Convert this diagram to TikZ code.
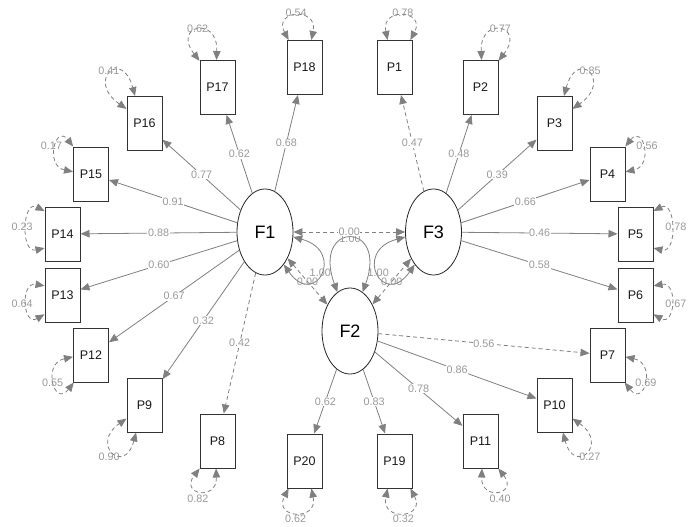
\documentclass[tikz,border=0pt]{standalone}
\usepackage{fontspec}
\setmainfont{Liberation Sans}
\usetikzlibrary{shapes.geometric,arrows.meta}
\definecolor{eg}{HTML}{808080}
\definecolor{lg}{HTML}{999999}
\definecolor{bx}{HTML}{333333}
\tikzset{
  obs/.style={draw=bx, line width=1pt, minimum width=35pt, minimum height=54pt, inner sep=0pt, fill=white, text=black!90, font=\fontsize{12.5}{12.5}\selectfont},
  lat/.style={ellipse, draw=black!85, line width=0.8pt, minimum width=56pt, minimum height=86pt, inner sep=0pt, fill=white, font=\fontsize{18}{18}\selectfont},
  load/.style={draw=eg, line width=0.8pt, ->},
  dload/.style={load, dash pattern=on 4pt off 3pt},
  cov/.style={draw=eg, line width=0.8pt, <->, dash pattern=on 4pt off 3pt},
  vloop/.style={draw=eg, line width=0.8pt, <->},
  rres/.style={draw=eg, line width=0.8pt, <->, dash pattern=on 4pt off 3pt},
  elab/.style={text=lg, font=\fontsize{10.8}{10.8}\selectfont, fill=white, inner sep=0.6pt},
  rlab/.style={text=lg, font=\fontsize{10.8}{10.8}\selectfont, inner sep=0pt},
}
\newcommand{\rloop}[8][rres]{%
  \pgfmathtruncatemacro{\rlA}{mod(#3+#4+720,360)}%
  \pgfmathtruncatemacro{\rlB}{mod(#3-#4+720,360)}%
  \pgfmathsetmacro{\rlC}{#3+#5}%
  \pgfmathsetmacro{\rlD}{#3-#5}%
  \draw[#1] (#2.\rlA) .. controls +(\rlC:#6pt) and +(\rlD:#6pt) .. (#2.\rlB)
     node[rlab, pos=0.5, shift={(#3:#8pt)}] {#7};%
}
\begin{document}
\begin{tikzpicture}[x=1pt, y=-1pt, >={Triangle[length=9pt,width=7.5pt]}]
\fill[white] (0,0) rectangle (691,527);
\useasboundingbox (0,0) rectangle (691,527);
% latent
\node[lat] (F1) at (265,232) {F1};
\node[lat] (F3) at (433.5,232) {F3};
\node[lat] (F2) at (350,331) {F2};
% observed
\node[obs] (P18) at (304.5,67.5) {P18};
\node[obs] (P17) at (217.5,87.5) {P17};
\node[obs] (P16) at (144.5,123.5) {P16};
\node[obs] (P15) at (91,174) {P15};
\node[obs] (P14) at (62.5,234) {P14};
\node[obs] (P13) at (62.5,295) {P13};
\node[obs] (P12) at (91,355) {P12};
\node[obs] (P9) at (144.5,405) {P9};
\node[obs] (P8) at (217.5,441) {P8};
\node[obs] (P20) at (304.5,461) {P20};
\node[obs] (P19) at (394.5,461) {P19};
\node[obs] (P11) at (480.5,441) {P11};
\node[obs] (P10) at (554.5,405) {P10};
\node[obs] (P7) at (607.5,355) {P7};
\node[obs] (P6) at (635.5,295) {P6};
\node[obs] (P5) at (635.5,234) {P5};
\node[obs] (P4) at (607.5,174) {P4};
\node[obs] (P3) at (554.5,123.5) {P3};
\node[obs] (P2) at (480.5,87.5) {P2};
\node[obs] (P1) at (394.5,67.5) {P1};
% loadings F1
\draw[load] (F1) -- node[elab]{0.68} (P18);
\draw[load] (F1) -- node[elab]{0.62} (P17);
\draw[load] (F1) -- node[elab]{0.77} (P16);
\draw[load] (F1) -- node[elab]{0.91} (P15);
\draw[load] (F1) -- node[elab]{0.88} (P14);
\draw[load] (F1) -- node[elab]{0.60} (P13);
\draw[load] (F1) -- node[elab]{0.67} (P12);
\draw[load] (F1) -- node[elab]{0.32} (P9);
\draw[dload] (F1) -- node[elab]{0.42} (P8);
% loadings F3
\draw[dload] (F3) -- node[elab]{0.47} (P1);
\draw[load] (F3) -- node[elab]{0.48} (P2);
\draw[load] (F3) -- node[elab]{0.39} (P3);
\draw[load] (F3) -- node[elab]{0.66} (P4);
\draw[load] (F3) -- node[elab]{0.46} (P5);
\draw[load] (F3) -- node[elab]{0.58} (P6);
% loadings F2
\draw[dload] (F2) -- node[elab]{0.56} (P7);
\draw[load] (F2) -- node[elab]{0.86} (P10);
\draw[load] (F2) -- node[elab]{0.78} (P11);
\draw[load] (F2) -- node[elab]{0.83} (P19);
\draw[load] (F2) -- node[elab]{0.62} (P20);
% latent variances and covariances
\rloop[vloop]{F2}{90}{18}{20}{76}{1.00}{0}
\draw[cov] (F1) -- node[elab]{0.00} (F3);
\rloop[vloop]{F1}{-35}{25}{20}{55}{1.00}{0}
\rloop[vloop]{F3}{215}{25}{20}{55}{1.00}{0}
\draw[cov] (F1) -- node[rlab]{0.00} (F2);
\draw[cov] (F2) -- node[rlab]{0.00} (F3);
% residual variances
\rloop{P18}{98}{22}{20}{34}{0.54}{4}
\rloop{P17}{108}{16}{20}{45}{0.62}{2}
\rloop{P16}{125}{16}{20}{50}{0.41}{3}
\rloop{P15}{148}{25}{20}{29}{0.17}{5}
\rloop{P14}{173}{45}{20}{25}{0.23}{5}
\rloop{P13}{190}{37}{20}{25}{0.64}{5}
\rloop{P12}{212}{26}{20}{32}{0.55}{2}
\rloop{P9}{235}{18}{20}{45}{0.90}{7}
\rloop{P8}{252}{15}{20}{33}{0.82}{9}
\rloop{P20}{262}{22}{20}{34}{0.62}{7}
\rloop{P19}{278}{22}{20}{34}{0.32}{7}
\rloop{P11}{288}{15}{20}{33}{0.40}{9}
\rloop{P10}{305}{18}{20}{45}{0.27}{7}
\rloop{P7}{328}{26}{20}{32}{0.69}{2}
\rloop{P6}{350}{37}{20}{25}{0.67}{5}
\rloop{P5}{7}{45}{20}{25}{0.78}{5}
\rloop{P4}{32}{25}{20}{29}{0.56}{5}
\rloop{P3}{55}{16}{20}{50}{0.85}{3}
\rloop{P2}{72}{16}{20}{45}{0.77}{2}
\rloop{P1}{82}{22}{20}{34}{0.78}{4}
\end{tikzpicture}
\end{document}
